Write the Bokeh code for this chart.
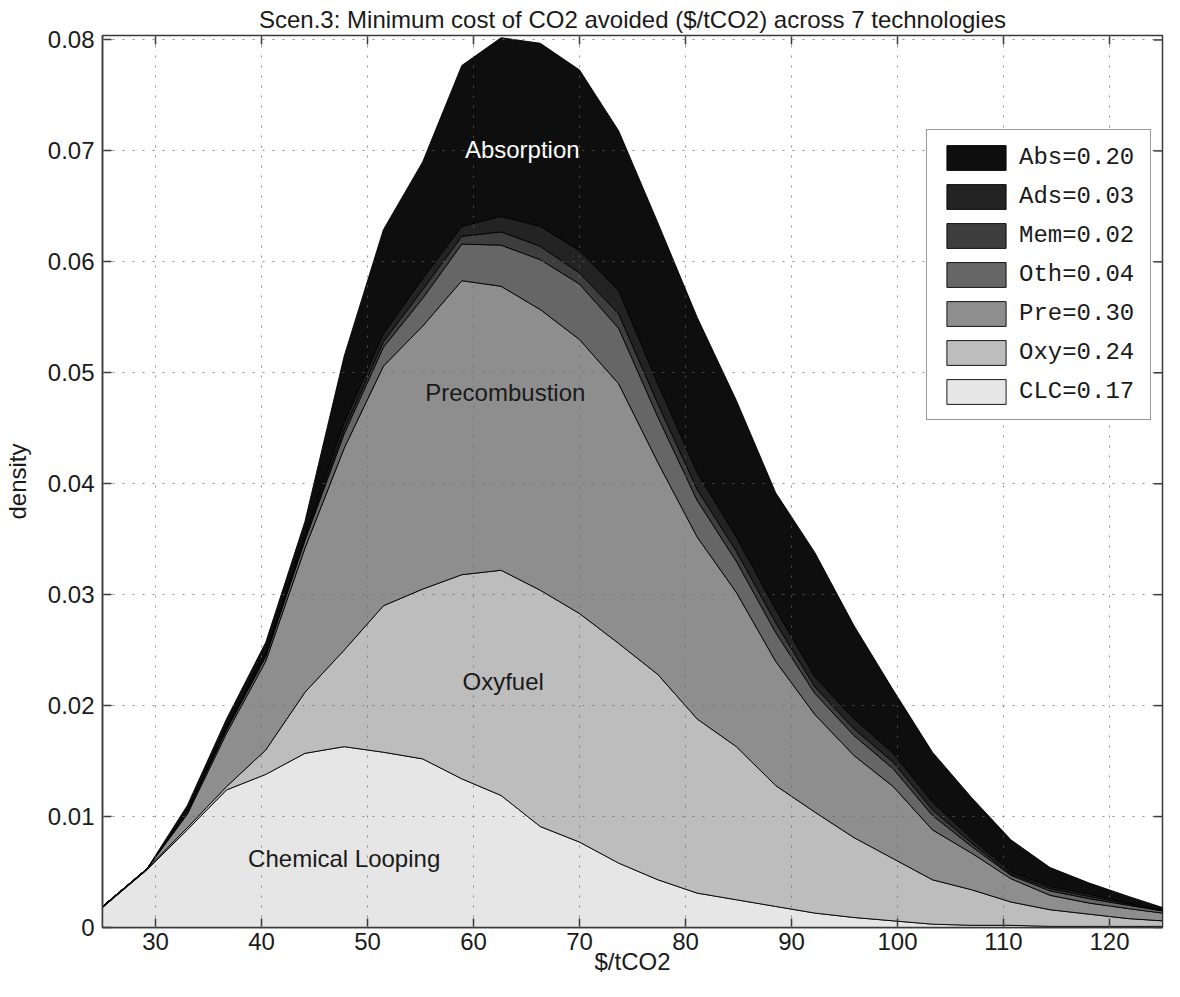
from bokeh.plotting import figure
from bokeh.models import (Range1d, FixedTicker, Legend, LegendItem,
                          PrintfTickFormatter, ColumnDataSource)
from bokeh.core.properties import value
from bokeh.embed import file_html
from bokeh.resources import INLINE
import numpy as np

# ---------------- data ----------------
x_vals = [25.0, 29.2, 33.0, 36.7, 40.4, 44.1, 47.8, 51.5, 55.2, 58.9, 62.6, 66.3, 70.0, 73.7,
          77.4, 81.1, 84.8, 88.5, 92.2, 95.9, 99.6, 103.3, 107.0, 110.7, 114.4, 118.1, 121.8, 125.0]

clc = [0.0018, 0.0052, 0.0088, 0.0124, 0.0138, 0.0157, 0.0163, 0.0158, 0.0152, 0.0134, 0.0119, 0.0091,
       0.0077, 0.0058, 0.0043, 0.0031, 0.0025, 0.0019, 0.0013, 0.0009, 0.0006, 0.0003, 0.0002, 0.0002,
       0.0001, 0.0001, 0.0001, 0.0001]
oxy = [0.0000, 0.0001, 0.0002, 0.0003, 0.0022, 0.0055, 0.0087, 0.0132, 0.0153, 0.0184, 0.0203, 0.0213,
       0.0206, 0.0198, 0.0185, 0.0157, 0.0138, 0.0109, 0.0091, 0.0072, 0.0056, 0.0040, 0.0032, 0.0021,
       0.0015, 0.0011, 0.0007, 0.0005]
pre = [0.0001, 0.0000, 0.0012, 0.0048, 0.0080, 0.0130, 0.0182, 0.0216, 0.0237, 0.0265, 0.0256, 0.0253,
       0.0247, 0.0234, 0.0191, 0.0164, 0.0139, 0.0112, 0.0088, 0.0074, 0.0065, 0.0045, 0.0033, 0.0021,
       0.0013, 0.0010, 0.0009, 0.0007]
oth = [0.0000, 0.0000, 0.0002, 0.0003, 0.0004, 0.0007, 0.0013, 0.0017, 0.0025, 0.0033, 0.0037, 0.0045,
       0.0050, 0.0050, 0.0041, 0.0033, 0.0028, 0.0026, 0.0019, 0.0018, 0.0016, 0.0013, 0.0006, 0.0003,
       0.0004, 0.0004, 0.0003, 0.0002]
mem = [0.0000, 0.0000, 0.0000, 0.0001, 0.0002, 0.0002, 0.0004, 0.0005, 0.0008, 0.0007, 0.0012, 0.0012,
       0.0010, 0.0013, 0.0012, 0.0010, 0.0009, 0.0009, 0.0006, 0.0006, 0.0006, 0.0005, 0.0003, 0.0001,
       0.0002, 0.0002, 0.0001, 0.0000]
ads = [0.0000, 0.0000, 0.0001, 0.0002, 0.0002, 0.0003, 0.0006, 0.0007, 0.0010, 0.0009, 0.0014, 0.0018,
       0.0020, 0.0021, 0.0018, 0.0015, 0.0013, 0.0012, 0.0009, 0.0009, 0.0008, 0.0007, 0.0004, 0.0002,
       0.0002, 0.0002, 0.0001, 0.0001]
abs_ = [0.0000, 0.0000, 0.0005, 0.0007, 0.0009, 0.0012, 0.0060, 0.0094, 0.0105, 0.0145, 0.0161, 0.0165,
        0.0163, 0.0144, 0.0145, 0.0140, 0.0123, 0.0105, 0.0112, 0.0084, 0.0057, 0.0045, 0.0037, 0.0029,
        0.0017, 0.0010, 0.0006, 0.0002]

# stacking order bottom -> top
layer_names = ["CLC", "Oxy", "Pre", "Oth", "Mem", "Ads", "Abs"]
layer_data = [clc, oxy, pre, oth, mem, ads, abs_]
layer_colors = ["#e6e6e6", "#bdbdbd", "#8e8e8e", "#666666", "#3e3e3e", "#232323", "#0e0e0e"]
legend_labels = {"Abs": "Abs=0.20", "Ads": "Ads=0.03", "Mem": "Mem=0.02", "Oth": "Oth=0.04",
                 "Pre": "Pre=0.30", "Oxy": "Oxy=0.24", "CLC": "CLC=0.17"}

x_ticks = [30, 40, 50, 60, 70, 80, 90, 100, 110, 120]
y_ticks = [0.0, 0.01, 0.02, 0.03, 0.04, 0.05, 0.06, 0.07, 0.08]

area_labels = ["Absorption", "Precombustion", "Oxyfuel", "Chemical Looping"]
area_label_x = [64.6, 63.0, 62.8, 47.8]
area_label_y = [0.0701, 0.0482, 0.0222, 0.0062]
area_label_colors = ["#ffffff", "#1a1a1a", "#1a1a1a", "#1a1a1a"]

FONT = "Liberation Sans"
AX = "#3a3a3a"
X0, X1, Y0, Y1 = 25, 125, 0, 0.0804
W, H = 1164, 981
BL, BR, BT, BB = 100, 2, 35, 54

p = figure(width=W, height=H, output_backend="svg", toolbar_location=None,
           x_range=Range1d(X0, X1), y_range=Range1d(Y0, Y1),
           min_border_left=BL, min_border_right=BR, min_border_top=BT, min_border_bottom=BB,
           title="Scen.3: Minimum cost of CO2 avoided ($/tCO2) across 7 technologies")
p.title.align = "center"
p.title.text_font = FONT
p.title.text_font_size = "24px"
p.title.text_font_style = "normal"
p.title.text_color = "#1a1a1a"
p.title.standoff = 6

p.background_fill_color = "white"
p.border_fill_color = "white"
p.outline_line_color = AX
p.outline_line_width = 1.5

# ---------------- stacked patches ----------------
xa = np.array(x_vals)
bottom = np.zeros(len(x_vals))
renderers = {}
for name, vals, col in zip(layer_names, layer_data, layer_colors):
    top = bottom + np.array(vals)
    px = np.concatenate([xa, xa[::-1]])
    py = np.concatenate([top, bottom[::-1]])
    r = p.patch(px, py, fill_color=col, line_color="#000000", line_width=0.9)
    renderers[name] = r
    bottom = top

# ---------------- grid (drawn over the areas, dotted) ----------------
for g in (p.xgrid, p.ygrid):
    g.level = "overlay"
    g.grid_line_color = "#6a6a6a"
    g.grid_line_alpha = 0.75
    g.grid_line_dash = "2 8"
    g.grid_line_width = 1
p.xgrid.ticker = FixedTicker(ticks=x_ticks)
p.ygrid.ticker = FixedTicker(ticks=y_ticks)

# ---------------- axes ----------------
xa_ax = p.xaxis[0]
xa_ax.ticker = FixedTicker(ticks=x_ticks)
ya_ax = p.yaxis[0]
ya_ax.ticker = FixedTicker(ticks=y_ticks)
ya_ax.formatter = PrintfTickFormatter(format="%.2f")
ya_ax.major_label_overrides = {0: "0"}

for ax in (xa_ax, ya_ax):
    ax.major_label_text_font = FONT
    ax.major_label_text_font_size = "24px"
    ax.major_label_text_color = "#1a1a1a"
    ax.axis_label_text_font = FONT
    ax.axis_label_text_font_size = "24px"
    ax.axis_label_text_font_style = "normal"
    ax.axis_label_text_color = "#1a1a1a"
    ax.major_tick_in = 9
    ax.major_tick_out = 0
    ax.minor_tick_line_color = None
    ax.axis_line_color = AX
    ax.axis_line_width = 1.5
    ax.major_tick_line_color = AX
    ax.major_tick_line_width = 1.5

xa_ax.axis_label = "$/tCO2"
xa_ax.major_label_standoff = 5
xa_ax.axis_label_standoff = -5
ya_ax.axis_label = "density"
ya_ax.major_label_standoff = 8
ya_ax.axis_label_standoff = 14

# mirrored inward tick marks on the top and right edges of the box
tick_px = 9
frame_w = W - BL - BR
frame_h = H - BT - BB
dy = (Y1 - Y0) / frame_h * tick_px
dx = (X1 - X0) / frame_w * tick_px
p.segment(x0=x_ticks, x1=x_ticks, y0=[Y1] * len(x_ticks), y1=[Y1 - dy] * len(x_ticks),
          line_color=AX, line_width=1.5, level="overlay")
p.segment(x0=[X1] * len(y_ticks), x1=[X1 - dx] * len(y_ticks), y0=y_ticks, y1=y_ticks,
          line_color=AX, line_width=1.5, level="overlay")

# ---------------- in-area labels ----------------
src = ColumnDataSource(dict(x=area_label_x, y=area_label_y, t=area_labels, c=area_label_colors))
p.text(x="x", y="y", text="t", text_color="c", source=src, text_align="center",
       text_baseline="middle", text_font=value(FONT), text_font_size="24px")

# ---------------- legend ----------------
items = [LegendItem(label=legend_labels[n], renderers=[renderers[n]])
         for n in ["Abs", "Ads", "Mem", "Oth", "Pre", "Oxy", "CLC"]]
legend = Legend(items=items, location=(824, 507), orientation="vertical",
                glyph_width=74, glyph_height=31, spacing=8, padding=12, margin=0,
                label_standoff=6, label_width=119, label_text_font="Liberation Mono",
                label_text_font_size="24px", label_text_color="#1a1a1a",
                border_line_color="#333333", border_line_width=1.5,
                background_fill_color="white", background_fill_alpha=1.0)
p.add_layout(legend)

open("out.html", "w").write(file_html(p, INLINE))
